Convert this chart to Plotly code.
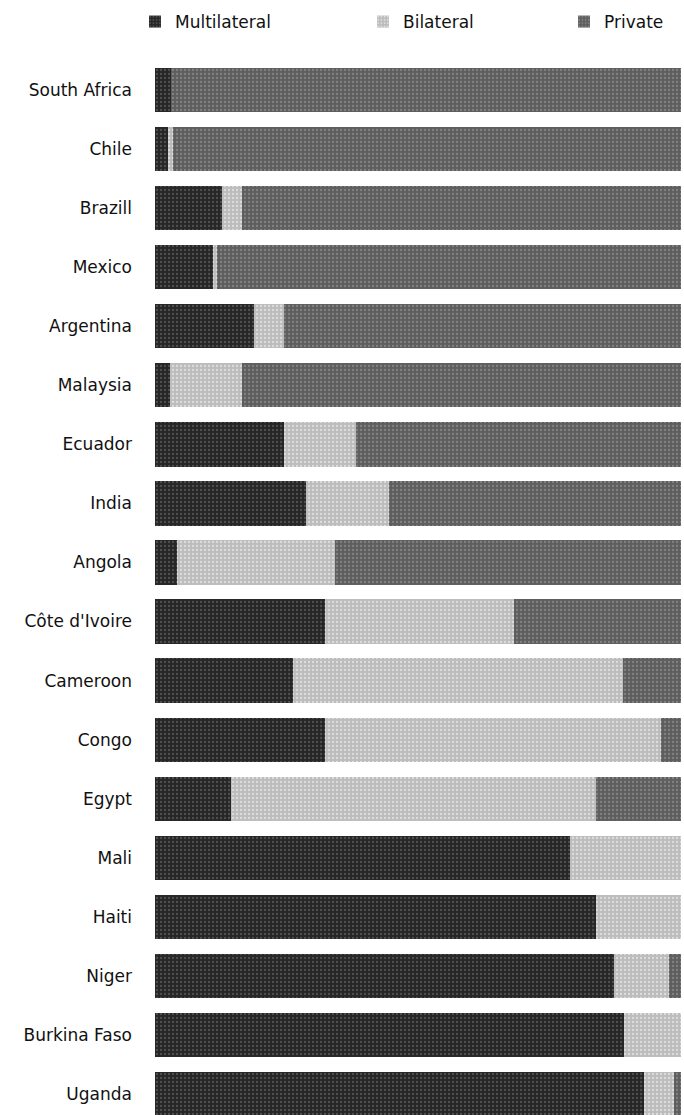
import plotly.graph_objects as go

countries = ["South Africa", "Chile", "Brazill", "Mexico", "Argentina", "Malaysia",
             "Ecuador", "India", "Angola", "Côte d'Ivoire", "Cameroon", "Congo",
             "Egypt", "Mali", "Haiti", "Niger", "Burkina Faso", "Uganda"]
multilateral = [3.0, 2.5, 12.8, 11.1, 18.8, 2.9, 24.5, 28.7, 4.2, 32.4, 26.2, 32.4,
                14.4, 78.9, 83.9, 87.2, 89.1, 92.9]
bilateral = [0.0, 1.0, 3.8, 0.6, 5.7, 13.6, 13.8, 15.7, 30.1, 35.8, 62.8, 63.8,
             69.5, 21.1, 16.1, 10.5, 10.9, 5.7]
private = [97.0, 96.5, 83.4, 88.3, 75.5, 83.5, 61.7, 55.6, 65.7, 31.8, 11.0, 3.8,
           16.1, 0.0, 0.0, 2.3, 0.0, 1.4]

series = [
    ("Multilateral", multilateral, "#262626", "#7a7a7a", "legend"),
    ("Bilateral", bilateral, "#bcbcbc", "#ffffff", "legend2"),
    ("Private", private, "#5e5e5e", "#a8a8a8", "legend3"),
]

FONT = "DejaVu Sans"
fig = go.Figure()
for name, vals, col, fg, leg in series:
    fig.add_trace(go.Bar(
        y=countries, x=vals, name=name, orientation="h",
        marker=dict(color=col, line=dict(width=0),
                    pattern=dict(shape=".", fgcolor=fg, size=4, solidity=0.25)),
        legend=leg, hoverinfo="name+x",
    ))

W, H = 684, 1115
row_top, row_step = 90, 59.06
top_px = 60
y0 = -(row_top - top_px) / row_step
y1 = (len(countries) - 1) + (H - (row_top + row_step * (len(countries) - 1))) / row_step

leg_common = dict(orientation="h", xref="container", yref="container",
                  xanchor="left", yanchor="middle", y=1 - 22 / H,
                  font=dict(family=FONT, size=17, color="#111"),
                  bgcolor="rgba(0,0,0,0)", itemwidth=30)

fig.update_layout(
    width=W, height=H,
    margin=dict(l=155, r=0, t=top_px, b=0),
    barmode="stack", bargap=0.25,
    plot_bgcolor="white", paper_bgcolor="white",
    font=dict(family=FONT, size=17, color="#111"),
    showlegend=True,
    legend=dict(x=135 / W, **leg_common),
    legend2=dict(x=363 / W, **leg_common),
    legend3=dict(x=564 / W, **leg_common),
    xaxis=dict(range=[0, 100 * (684 - 155) / (681 - 155)], visible=False,
               showgrid=False, zeroline=False),
    yaxis=dict(range=[y1, y0], autorange=False, showgrid=False, zeroline=False,
               showline=False, ticks="", ticklabelstandoff=22,
               tickfont=dict(family=FONT, size=17, color="#111")),
)

fig.write_html("out.html")
